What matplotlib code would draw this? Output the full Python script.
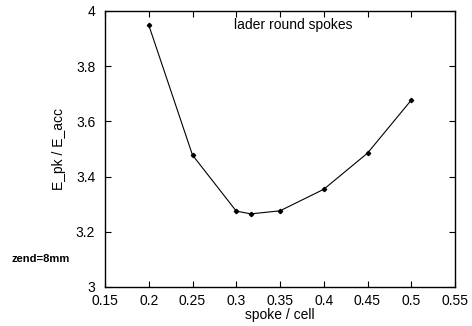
import matplotlib
matplotlib.use("Agg")
import matplotlib.pyplot as plt

spoke_cell = [0.2, 0.25, 0.3, 0.3167, 0.35, 0.4, 0.45, 0.5]
e_ratio = [3.949, 3.478, 3.275, 3.265, 3.276, 3.354, 3.485, 3.677]

x_ticks = [0.15, 0.2, 0.25, 0.3, 0.35, 0.4, 0.45, 0.5, 0.55]
x_ticklabels = ["0.15", "0.2", "0.25", "0.3", "0.35", "0.4", "0.45", "0.5", "0.55"]
y_ticks = [3.0, 3.2, 3.4, 3.6, 3.8, 4.0]
y_ticklabels = ["3", "3.2", "3.4", "3.6", "3.8", "4"]

plt.rcParams["font.family"] = ["Liberation Sans", "DejaVu Sans"]
plt.rcParams["font.size"] = 10
plt.rcParams["xtick.direction"] = "in"
plt.rcParams["ytick.direction"] = "in"

fig = plt.figure(figsize=(4.72, 3.26), dpi=100)
ax = fig.add_axes([105 / 472, 1 - 287 / 326, 350 / 472, 276 / 326])

ax.plot(spoke_cell, e_ratio, color="black", linewidth=0.8,
        marker="D", markersize=2.2, markerfacecolor="black")

ax.set_xlim(0.15, 0.55)
ax.set_ylim(3.0, 4.0)
ax.set_xticks(x_ticks)
ax.set_xticklabels(x_ticklabels)
ax.set_yticks(y_ticks)
ax.set_yticklabels(y_ticklabels)
ax.tick_params(top=True, right=True, length=4, width=0.8)
ax.tick_params(axis="y", pad=7)
ax.tick_params(axis="x", pad=5)
for s in ax.spines.values():
    s.set_linewidth(1.0)

ax.set_xlabel("spoke / cell", labelpad=0)
ax.set_ylabel("E_pk / E_acc", labelpad=7)

ax.text(0.365, 3.95, "lader round spokes", ha="center", va="center")
fig.text(12 / 472, 1 - 259 / 326, "zend=8mm", fontsize=8, fontweight="bold",
         ha="left", va="center")

fig.savefig("out.png", dpi=100)
